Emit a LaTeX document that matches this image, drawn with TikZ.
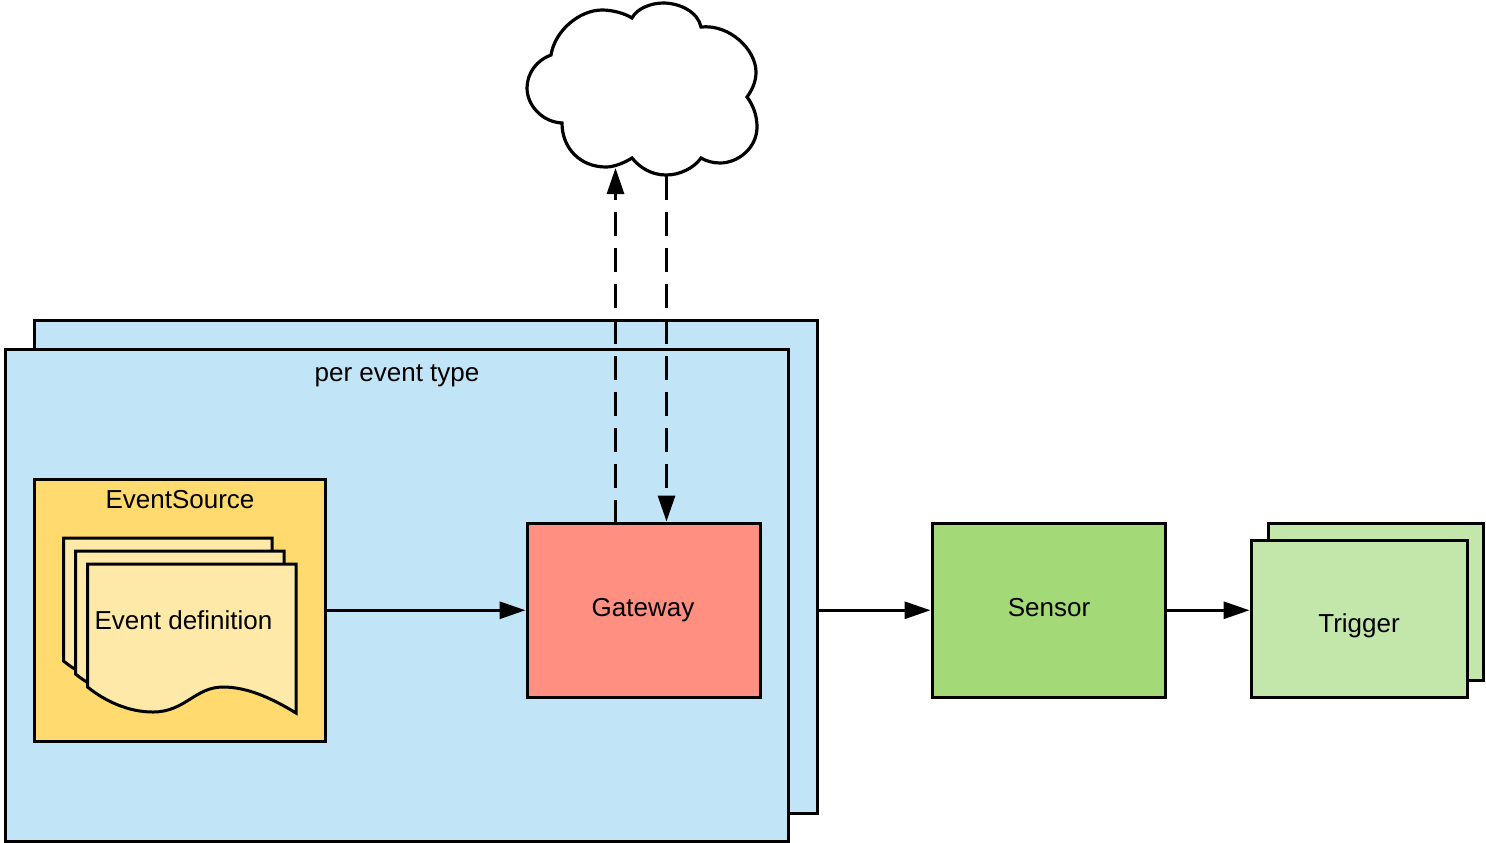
\documentclass[tikz,border=0pt]{standalone}
\usepackage{fontspec}
\setmainfont{Liberation Sans}
\usetikzlibrary{arrows.meta}
\definecolor{cblue}{HTML}{C1E4F7}
\definecolor{cyellow}{HTML}{FFDA6F}
\definecolor{cdoc}{HTML}{FFE9A8}
\definecolor{cred}{HTML}{FF8F80}
\definecolor{cgreen}{HTML}{A3D977}
\definecolor{clight}{HTML}{C3E6AA}
\tikzset{
  x=0.5pt,y=-0.5pt,
  box/.style={draw=black,line width=1.5pt,rectangle,inner sep=0pt,outer sep=0pt},
  label text/.style={inner sep=0pt,font=\fontsize{13}{15}\selectfont,text=black},
  flow/.style={line width=1.5pt,-{Triangle[length=13pt,width=8.5pt]},shorten >=1pt},
  dashflow/.style={flow,dash pattern=on 12pt off 6pt},
  docshape/.style={draw=black,line width=1.5pt,fill=cdoc,line join=miter}
}
\newcommand{\docpath}[2]{%
  \draw[docshape,shift={(#1,#2)}] (87.5,564) -- (296,564) -- (296,713)
    .. controls (270,697) and (246,687) .. (223,687)
    .. controls (195,687) and (185,712) .. (153,712)
    .. controls (128,712) and (105,701) .. (87.5,687) -- cycle;}
\begin{document}
\begin{tikzpicture}
\useasboundingbox (0,0) rectangle (1486,842);
% cloud
\draw[line width=1.6pt,fill=white,line join=miter] (551,55)
  .. controls (555,30) and (580,10) .. (602,10)
  .. controls (612,10) and (624,13) .. (632,18)
  .. controls (637,8) and (652,3) .. (663,3)
  .. controls (680,3) and (698,12) .. (701,27)
  .. controls (730,24) and (756,50) .. (756,72)
  .. controls (756,82) and (752,90) .. (747,97)
  .. controls (753,105) and (757,115) .. (757,127)
  .. controls (757,148) and (738,163) .. (720,163)
  .. controls (713,163) and (706,161) .. (701,158)
  .. controls (694,168) and (680,175) .. (666,175)
  .. controls (652,175) and (640,168) .. (632,158)
  .. controls (624,163) and (614,167) .. (606,167)
  .. controls (580,167) and (562,148) .. (562,123)
  .. controls (542,122) and (527,105) .. (527,88)
  .. controls (527,73) and (537,60) .. (551,55) -- cycle;
\coordinate (cloudin) at (615.5,166);
\coordinate (cloudout) at (666.5,176);
% per event type frames
\node[box,fill=cblue,minimum width=391.25pt,minimum height=246.25pt] (backframe) at (425.75,566.75) {};
\node[box,fill=cblue,minimum width=391.25pt,minimum height=246pt] (frame) at (396.75,595.25) {};
\node[label text] (frametitle) at (397,375.5) {per event type};
% event source
\node[box,fill=cyellow,minimum width=145.25pt,minimum height=130.75pt] (source) at (179.75,610.25) {};
\node[label text] (sourcetitle) at (180,500) {EventSource};
\docpath{-24}{-26}
\docpath{-12}{-13}
\docpath{0}{0}
\node[label text] (doctext) at (183.5,620) {Event definition};
% components
\node[box,fill=cred,minimum width=116.25pt,minimum height=86.75pt] (gateway) at (643.75,610.25) {};
\node[label text] at (643,610) (gatewaytext) {Gateway};
\node[box,fill=cgreen,minimum width=116.25pt,minimum height=86.75pt] (sensor) at (1048.75,610.25) {};
\node[label text] at (1049,608) (sensortext) {Sensor};
\node[box,fill=clight,minimum width=107.25pt,minimum height=78.25pt] (triggerback) at (1375.75,601.75) {};
\node[box,fill=clight,minimum width=107.75pt,minimum height=78.25pt] (trigger) at (1359.25,618.75) {};
\node[label text] at (1359,626) (triggertext) {Trigger};
% connectors
\draw[dashflow] (gateway.north -| cloudin) -- (cloudin);
\draw[dashflow] (cloudout) -- (gateway.north -| cloudout);
\draw[flow] (source.east) -- (gateway.west);
\draw[flow] (backframe.east |- sensor.west) -- (sensor.west);
\draw[flow] (sensor.east) -- (sensor.east -| trigger.west);
\end{tikzpicture}
\end{document}
